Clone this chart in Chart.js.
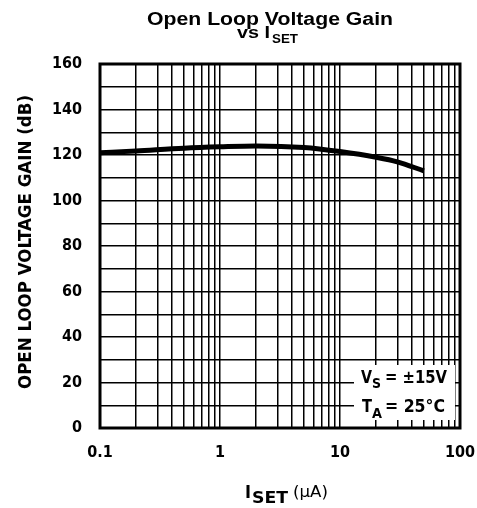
<!DOCTYPE html>
<html lang="en">
<head>
  <meta charset="UTF-8">
  <title>Open Loop Voltage Gain vs ISET</title>
  <script src="https://cdn.jsdelivr.net/npm/chart.js"></script>
  <style>
    html, body { margin: 0; padding: 0; background: #fff; }
    #wrap { width: 477px; height: 508px; }
  </style>
</head>
<body>
  <div id="wrap"><canvas id="myChart" width="477" height="508"></canvas></div>
  <script>
    // values
    const iset = [0.1, 0.2, 0.5, 1, 2, 5, 10, 20, 30, 50];
    const gain = [121, 121.8, 123, 123.6, 124, 123.3, 121.5, 119, 117, 113];

    const xTickLabels = [0.1, 1, 10, 100];
    const yTickLabels = [0, 20, 40, 60, 80, 100, 120, 140, 160];
    const xGrid = [];
    [0.1, 1, 10].forEach(d => { for (let m = 1; m < 10; m++) xGrid.push(+(d * m).toPrecision(3)); });
    xGrid.push(100);

    const condensed = "'Liberation Sans Narrow', 'DejaVu Sans Condensed', 'Arial Narrow', sans-serif";
    const arial = 'Arial, "Liberation Sans", sans-serif';

    // draw text squeezed/stretched to a given width
    function fitText(ctx, txt, x, y, w) {
      const m = ctx.measureText(txt).width;
      ctx.save();
      ctx.translate(x, y);
      ctx.scale(w / m, 1);
      ctx.fillText(txt, 0, 0);
      ctx.restore();
    }

    // titles, y-axis caption and condition box
    const textPlugin = {
      id: 'texts',
      afterDatasetsDraw(chart) {
        const ctx = chart.ctx, a = chart.chartArea;
        ctx.save();
        ctx.textAlign = 'left';
        ctx.textBaseline = 'alphabetic';

        // condition box
        ctx.fillStyle = '#fff';
        ctx.fillRect(354, 365, 101, 55);
        ctx.fillStyle = '#000';
        ctx.font = 'bold 18px ' + condensed;
        fitText(ctx, 'V', 361, 383, 11);
        ctx.font = 'bold 14px ' + condensed;
        fitText(ctx, 'S', 372, 388, 9);
        ctx.font = 'bold 18px ' + condensed;
        fitText(ctx, '= \u00b115V', 385, 383, 62);
        fitText(ctx, 'T', 362, 412, 10);
        ctx.font = 'bold 14px ' + condensed;
        fitText(ctx, 'A', 372, 418, 10);
        ctx.font = 'bold 18px ' + condensed;
        fitText(ctx, '= 25\u00b0C', 385, 412, 60);

        // frame
        ctx.lineWidth = 3;
        ctx.strokeRect(a.left, a.top, a.right - a.left, a.bottom - a.top);

        // title
        ctx.font = 'bold 18px ' + arial;
        fitText(ctx, 'Open Loop Voltage Gain', 147, 25, 246);
        ctx.font = 'bold 17px ' + arial;
        fitText(ctx, 'vs I', 237, 38, 33);
        ctx.font = 'bold 13px ' + arial;
        fitText(ctx, 'SET', 272, 43, 26);

        // x axis caption
        ctx.font = 'bold 18px ' + condensed;
        fitText(ctx, 'I', 245, 498, 6);
        ctx.font = 'bold 16px ' + condensed;
        fitText(ctx, 'SET', 252, 503, 36);
        ctx.font = '15px ' + condensed;
        fitText(ctx, '(\u03bcA)', 293, 497, 35);

        // y axis caption
        ctx.translate(26, 242);
        ctx.rotate(-Math.PI / 2);
        ctx.textBaseline = 'middle';
        ctx.font = 'bold 18px ' + condensed;
        fitText(ctx, 'OPEN LOOP VOLTAGE GAIN (dB)', -147, 0, 294);
        ctx.restore();
      }
    };

    new Chart(document.getElementById('myChart'), {
      type: 'scatter',
      data: {
        datasets: [{
          data: iset.map((v, i) => ({ x: v, y: gain[i] })),
          showLine: true,
          borderColor: '#000',
          borderWidth: 5,
          pointRadius: 0,
          cubicInterpolationMode: 'monotone'
        }]
      },
      options: {
        responsive: false,
        animation: false,
        layout: { padding: { top: 64, right: 17, left: 0, bottom: 0 } },
        plugins: { legend: { display: false }, tooltip: { enabled: false } },
        scales: {
          x: {
            type: 'logarithmic',
            min: 0.1,
            max: 100,
            afterBuildTicks: s => { s.ticks = xGrid.map(v => ({ value: v })); },
            afterFit: s => { s.height = 80; s.paddingLeft = 0; s.paddingRight = 0; },
            grid: { color: '#000', lineWidth: 1.5, drawTicks: false },
            border: { display: false },
            ticks: {
              autoSkip: false,
              maxRotation: 0,
              padding: 15,
              color: '#000',
              font: { family: condensed, size: 16, weight: 'bold' },
              callback: v => xTickLabels.includes(v) ? String(v) : ''
            }
          },
          y: {
            min: 0,
            max: 160,
            ticks: {
              stepSize: 10,
              padding: 18,
              color: '#000',
              font: { family: condensed, size: 16, weight: 'bold' },
              callback: v => yTickLabels.includes(v) ? String(v) : ''
            },
            afterFit: s => { s.width = 100; s.paddingTop = 0; s.paddingBottom = 0; },
            grid: { color: '#000', lineWidth: 1.5, drawTicks: false },
            border: { display: false }
          }
        }
      },
      plugins: [textPlugin]
    });
  </script>
</body>
</html>
